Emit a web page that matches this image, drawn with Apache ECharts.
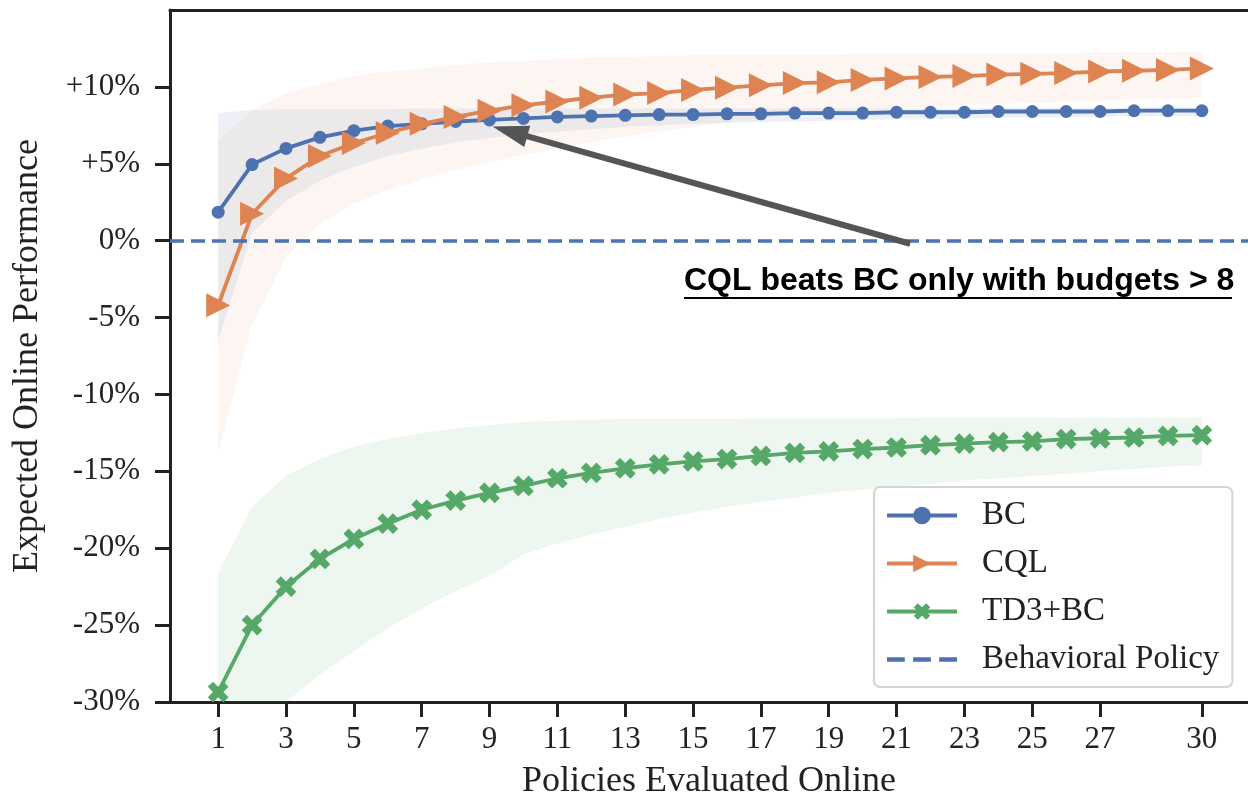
<!DOCTYPE html>
<html>
<head>
<meta charset="utf-8">
<script src="https://cdn.jsdelivr.net/npm/echarts@6/dist/echarts.min.js"></script>
<style>
  html, body { margin: 0; padding: 0; background: #fff; }
  #chart { width: 1248px; height: 805px; }
</style>
</head>
<body>
<div id="chart"></div>
<script>
// policies evaluated online (x)
const budgets = [1, 2, 3, 4, 5, 6, 7, 8, 9, 10, 11, 12, 13, 14, 15, 16, 17, 18, 19, 20, 21, 22, 23, 24, 25, 26, 27, 28, 29, 30];
const xTickValues = [1, 3, 5, 7, 9, 11, 13, 15, 17, 19, 21, 23, 25, 27, 30];
const yTickValues = [-30, -25, -20, -15, -10, -5, 0, 5, 10];

// expected online performance in %
const bcMean = [1.85, 4.95, 6.0, 6.72, 7.15, 7.45, 7.6, 7.75, 7.85, 7.95, 8.05, 8.1, 8.15, 8.2, 8.2, 8.25, 8.25, 8.3, 8.3, 8.3, 8.35, 8.35, 8.35, 8.4, 8.4, 8.4, 8.4, 8.45, 8.45, 8.45];
const bcLow = [-6.5, 0.5, 2.6, 3.9, 4.8, 5.5, 6.0, 6.4, 6.7, 6.9, 7.1, 7.25, 7.4, 7.5, 7.6, 7.65, 7.7, 7.75, 7.8, 7.85, 7.9, 7.9, 7.95, 8.0, 8.0, 8.05, 8.05, 8.1, 8.1, 8.1];
const bcHigh = [8.3, 8.5, 8.55, 8.55, 8.55, 8.55, 8.6, 8.6, 8.6, 8.6, 8.6, 8.6, 8.6, 8.6, 8.6, 8.6, 8.6, 8.6, 8.6, 8.6, 8.6, 8.6, 8.6, 8.65, 8.65, 8.65, 8.65, 8.65, 8.65, 8.65];

const cqlMean = [-4.2, 1.75, 4.05, 5.5, 6.35, 7.0, 7.6, 8.05, 8.45, 8.8, 9.05, 9.3, 9.5, 9.6, 9.8, 9.95, 10.1, 10.25, 10.3, 10.45, 10.55, 10.65, 10.7, 10.8, 10.85, 10.9, 11.0, 11.05, 11.1, 11.2];
const cqlLow = [-13.8, -5.4, -1.1, 1.1, 2.4, 3.3, 4.0, 4.6, 5.1, 5.6, 6.0, 6.4, 6.8, 7.1, 7.4, 7.7, 7.95, 8.2, 8.35, 8.5, 8.6, 8.7, 8.8, 8.9, 8.95, 9.05, 9.1, 9.2, 9.25, 9.3];
const cqlHigh = [6.5, 8.5, 9.6, 10.2, 10.7, 11.0, 11.2, 11.4, 11.6, 11.7, 11.8, 11.9, 11.95, 12.0, 12.05, 12.05, 12.1, 12.1, 12.1, 12.15, 12.15, 12.15, 12.2, 12.2, 12.2, 12.2, 12.25, 12.25, 12.25, 12.3];

const td3Mean = [-29.35, -25.0, -22.5, -20.7, -19.4, -18.4, -17.5, -16.9, -16.4, -15.95, -15.45, -15.1, -14.8, -14.55, -14.35, -14.2, -14.0, -13.8, -13.7, -13.55, -13.45, -13.3, -13.2, -13.1, -13.05, -12.9, -12.85, -12.8, -12.7, -12.65];
const td3Low = [-40, -34, -30, -28.2, -26.7, -25.2, -23.9, -22.8, -21.8, -20.4, -19.7, -19.1, -18.6, -18.1, -17.7, -17.3, -17.0, -16.7, -16.4, -16.2, -16.0, -15.8, -15.6, -15.45, -15.3, -15.15, -15.0, -14.85, -14.7, -14.6];
const td3High = [-21.6, -17.3, -15.3, -14.2, -13.4, -12.9, -12.5, -12.2, -12.0, -11.8, -11.7, -11.65, -11.6, -11.6, -11.6, -11.6, -11.55, -11.55, -11.55, -11.55, -11.55, -11.5, -11.5, -11.5, -11.5, -11.5, -11.5, -11.5, -11.5, -11.5];

const behavioralLevel = 0;

// annotation arrow (data coords)
const arrowFrom = [21.4, -0.2];
const arrowTo = [9.6, 7.1];
const annotationText = 'CQL beats BC only with budgets > 8';

const BLUE = '#4C72B0';
const ORANGE = '#DD8452';
const GREEN = '#55A868';
const AXIS = '#222222';
const SERIF = "'Liberation Serif', 'DejaVu Serif', serif";

const pairs = arr => budgets.map((b, i) => [b, arr[i]]);

// shaded band between low and high, drawn as one polygon through the axes
const band = (key, low, high, color, alpha) => ({
  name: key + 'Band', type: 'custom', silent: true, z: 1, clip: true,
  data: budgets.map((b, i) => [b, low[i], high[i]]),
  encode: { x: 0, y: [1, 2] },
  renderItem: (params, api) => {
    if (params.dataIndex !== 0) return null;
    const top = budgets.map((b, i) => api.coord([b, high[i]]));
    const bottom = budgets.map((b, i) => api.coord([b, low[i]])).reverse();
    return {
      type: 'polygon',
      shape: { points: top.concat(bottom) },
      style: { fill: color, opacity: alpha }
    };
  }
});

const xPath = 'path://M-1,-3L1,-3L1,-1L3,-1L3,1L1,1L1,3L-1,3L-1,1L-3,1L-3,-1L-1,-1Z';
const dashIcon = 'path://M0,0h15v4h-15zM22,0h15v4h-15zM44,0h15v4h-15z';

const chart = echarts.init(document.getElementById('chart'));

const option = {
  animation: false,
  grid: { left: 170, right: 0, top: 10, bottom: 100 },
  xAxis: [
    {
      type: 'value', min: -0.42, max: 31.36, position: 'bottom',
      axisLine: { show: true, onZero: false, lineStyle: { color: AXIS, width: 3 } },
      axisTick: { show: true, customValues: xTickValues, length: 15, lineStyle: { color: AXIS, width: 3 } },
      axisLabel: { customValues: xTickValues, margin: 22, fontSize: 31, fontFamily: SERIF, color: AXIS },
      splitLine: { show: false },
      name: 'Policies Evaluated Online', nameLocation: 'middle', nameGap: 62,
      nameTextStyle: { fontSize: 36, fontFamily: SERIF, color: AXIS }
    },
    {
      type: 'value', min: -0.42, max: 31.36, position: 'top',
      axisLine: { show: true, onZero: false, lineStyle: { color: AXIS, width: 3 } },
      axisTick: { show: false }, axisLabel: { show: false }, splitLine: { show: false }
    }
  ],
  yAxis: {
    type: 'value', min: -30, max: 15, interval: 5,
    axisLine: { show: true, onZero: false, lineStyle: { color: AXIS, width: 3 } },
    axisTick: { show: true, customValues: yTickValues, length: 15, lineStyle: { color: AXIS, width: 3 } },
    axisLabel: {
      customValues: yTickValues, margin: 30, fontSize: 31, fontFamily: SERIF, color: AXIS,
      formatter: v => (v > 0 ? '+' : '') + v + '%'
    },
    splitLine: { show: false },
    name: 'Expected Online Performance', nameLocation: 'middle', nameGap: 124,
    nameTextStyle: { fontSize: 36, fontFamily: SERIF, color: AXIS }
  },
  legend: {
    data: ['BC', 'CQL', 'TD3+BC', { name: 'Behavioral Policy', icon: dashIcon, itemStyle: { color: BLUE } }],
    orient: 'vertical', left: 874, top: 487,
    itemWidth: 70, itemHeight: 22, itemGap: 15,
    padding: [12, 13, 11, 11],
    backgroundColor: 'rgba(255,255,255,0.85)',
    borderColor: '#d4d4d4', borderWidth: 2, borderRadius: 6,
    lineStyle: { width: 4 },
    textStyle: { fontSize: 33, fontFamily: SERIF, color: AXIS, lineHeight: 32, padding: [0, 0, 0, 20] }
  },
  graphic: [
    {
      type: 'text', left: 684, top: 265, z: 10,
      style: { text: annotationText, font: "bold 32px 'Liberation Sans', Arial, sans-serif", fill: '#000' }
    },
    {
      type: 'line', z: 10,
      shape: { x1: 684, y1: 298, x2: 1232, y2: 298 },
      style: { stroke: '#000', lineWidth: 2 }
    }
  ],
  series: [
    band('bc', bcLow, bcHigh, BLUE, 0.1),
    band('cql', cqlLow, cqlHigh, ORANGE, 0.08),
    band('td3', td3Low, td3High, GREEN, 0.1),
    {
      name: 'Behavioral Policy', type: 'line', data: [], symbol: 'none', z: 2,
      lineStyle: { color: BLUE, width: 3.5, type: [14, 7] },
      itemStyle: { color: BLUE },
      markLine: {
        silent: true, symbol: 'none', label: { show: false },
        lineStyle: { color: BLUE, width: 3.5, type: [14, 7] },
        data: [{ yAxis: behavioralLevel }]
      }
    },
    {
      name: 'BC', type: 'line', data: pairs(bcMean), z: 3,
      symbol: 'circle', symbolSize: 13,
      lineStyle: { color: BLUE, width: 3.8 }, itemStyle: { color: BLUE }
    },
    {
      name: 'CQL', type: 'line', data: pairs(cqlMean), z: 4,
      symbol: 'triangle', symbolSize: 24, symbolRotate: -90,
      lineStyle: { color: ORANGE, width: 3.8 }, itemStyle: { color: ORANGE }
    },
    {
      name: 'TD3+BC', type: 'line', data: pairs(td3Mean), z: 5,
      symbol: xPath, symbolSize: 22, symbolRotate: 45,
      lineStyle: { color: GREEN, width: 3.8 }, itemStyle: { color: GREEN }
    },
    {
      name: 'arrow', type: 'line', data: [], z: 6,
      markLine: {
        silent: true, symbol: ['none', 'triangle'], symbolSize: [22, 36],
        label: { show: false },
        lineStyle: { color: '#555555', width: 6, type: 'solid' },
        data: [[{ coord: arrowFrom }, { coord: arrowTo }]]
      }
    }
  ]
};

chart.setOption(option);
</script>
</body>
</html>
